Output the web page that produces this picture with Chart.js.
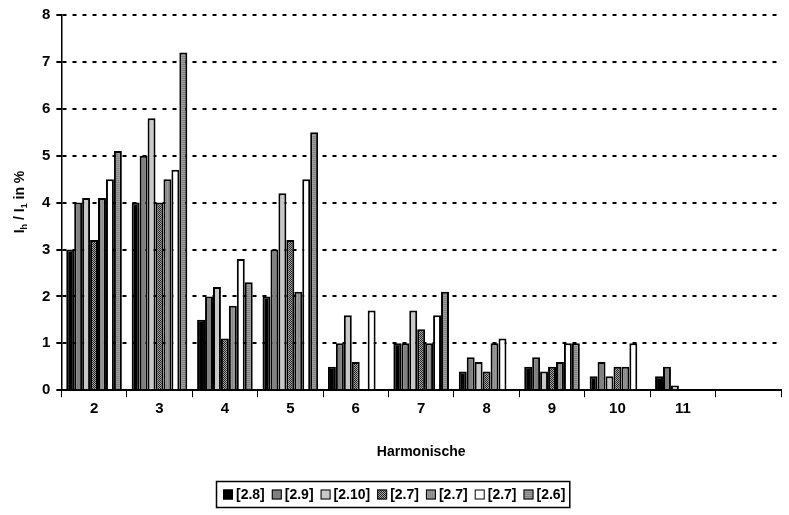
<!DOCTYPE html>
<html>
<head>
<meta charset="utf-8">
<script src="https://cdn.jsdelivr.net/npm/chart.js@4.4.1/dist/chart.umd.min.js"></script>
<style>
  html, body { margin: 0; padding: 0; background: #fff; }
  #wrap { width: 789px; height: 515px; }
</style>
</head>
<body>
<div id="wrap"><canvas id="harmChart" width="789" height="515"></canvas></div>
<script>
// Harmonic order (last slot stays empty like the original)
const harmonics = ['2', '3', '4', '5', '6', '7', '8', '9', '10', '11', ''];
const seriesNames = ['[2.8]', '[2.9]', '[2.10]', '[2.7]', '[2.7]', '[2.7]', '[2.6]'];

const src28  = [3.0, 4.0, 1.5, 2.0, 0.5, 1.0, 0.4, 0.5, 0.3, 0.3, null];
const src29  = [4.0, 5.0, 2.0, 3.0, 1.0, 1.0, 0.7, 0.7, 0.6, 0.5, null];
const src210 = [4.1, 5.8, 2.2, 4.2, 1.6, 1.7, 0.6, 0.4, 0.3, 0.1, null];
const src27a = [3.2, 4.0, 1.1, 3.2, 0.6, 1.3, 0.4, 0.5, 0.5, null, null];
const src27b = [4.1, 4.5, 1.8, 2.1, null, 1.0, 1.0, 0.6, 0.5, null, null];
const src27c = [4.5, 4.7, 2.8, 4.5, 1.7, 1.6, 1.1, 1.0, 1.0, null, null];
const src26  = [5.1, 7.2, 2.3, 5.5, null, 2.1, null, 1.0, null, null, null];

const yTicks = [0, 1, 2, 3, 4, 5, 6, 7, 8];

const FONT = '"Liberation Sans", Arial, sans-serif';

function makePattern(draw) {
    const c = document.createElement('canvas');
    c.width = 4; c.height = 4;
    const g = c.getContext('2d');
    draw(g);
    return document.getElementById('harmChart').getContext('2d').createPattern(c, 'repeat');
}

// checkered dark pattern
const checkPattern = makePattern(g => {
    g.fillStyle = '#a8a8a8'; g.fillRect(0, 0, 4, 4);
    g.fillStyle = '#202020';
    g.fillRect(0, 0, 1, 1); g.fillRect(2, 0, 1, 1);
    g.fillRect(1, 1, 1, 1); g.fillRect(3, 1, 1, 1);
    g.fillRect(0, 2, 1, 1); g.fillRect(2, 2, 1, 1);
    g.fillRect(1, 3, 1, 1); g.fillRect(3, 3, 1, 1);
});
// fine vertical stripes
const vStripe = makePattern(g => {
    g.fillStyle = '#9a9a9a'; g.fillRect(0, 0, 4, 4);
    g.fillStyle = '#888888'; g.fillRect(0, 0, 1, 4); g.fillRect(2, 0, 1, 4);
});
// fine horizontal stripes
const hStripe = makePattern(g => {
    g.fillStyle = '#a0a0a0'; g.fillRect(0, 0, 4, 4);
    g.fillStyle = '#808080'; g.fillRect(0, 0, 4, 1); g.fillRect(0, 2, 4, 1);
});

const fills = ['#000000', '#808080', '#c8c8c8', checkPattern, vStripe, '#ffffff', hStripe];
const allData = [src28, src29, src210, src27a, src27b, src27c, src26];

const datasets = allData.map((d, i) => ({
    label: seriesNames[i],
    data: d,
    backgroundColor: fills[i],
    borderColor: '#000',
    borderWidth: 2,
    borderSkipped: 'bottom',
    categoryPercentage: 0.85,
    barPercentage: 1.0
}));

// y axis title with subscripts + framed legend (tight spacing like the original)
const extrasPlugin = {
    id: 'extras',
    afterDraw(chart) {
        const ctx = chart.ctx;
        ctx.save();
        ctx.translate(19, 202);
        ctx.rotate(-Math.PI / 2);
        ctx.fillStyle = '#000';
        ctx.textBaseline = 'alphabetic';
        const big = 'bold 14px ' + FONT;
        const small = 'bold 9px ' + FONT;
        const parts = [['I', big, 0], ['h', small, 3], [' / I', big, 0], ['1', small, 3], [' in %', big, 0]];
        let w = 0;
        parts.forEach(p => { ctx.font = p[1]; w += ctx.measureText(p[0]).width; });
        let x = -w / 2;
        parts.forEach(p => {
            ctx.font = p[1];
            ctx.fillText(p[0], x, 5 + p[2]);
            x += ctx.measureText(p[0]).width;
        });
        ctx.restore();

        // legend
        ctx.save();
        ctx.font = 'bold 14px ' + FONT;
        const box = 10, gapBox = 3, gapItem = 7;
        const widths = chart.data.datasets.map(ds => ctx.measureText(ds.label).width);
        const total = widths.reduce((a, b) => a + b, 0) + chart.data.datasets.length * (box + gapBox) + (widths.length - 1) * gapItem;
        const cx = 394, cy = 494.5;
        let lx = Math.round(cx - total / 2);
        ctx.strokeStyle = '#000';
        ctx.lineWidth = 1.5;
        ctx.strokeRect(lx - 6.5, 481.5, total + 11, 26);
        ctx.textBaseline = 'middle';
        chart.data.datasets.forEach((ds, i) => {
            ctx.fillStyle = ds.backgroundColor;
            ctx.fillRect(lx, cy - 5, box, box);
            ctx.lineWidth = 1;
            ctx.strokeRect(lx + 0.5, cy - 4.5, box - 1, box - 1);
            lx += box + gapBox;
            ctx.fillStyle = '#000';
            ctx.fillText(ds.label, lx, cy + 1);
            lx += widths[i] + gapItem;
        });
        ctx.restore();
    }
};

new Chart(document.getElementById('harmChart'), {
    type: 'bar',
    data: { labels: harmonics, datasets: datasets },
    plugins: [extrasPlugin],
    options: {
        responsive: false,
        animation: false,
        layout: { padding: { left: 36, right: 8, top: 8, bottom: 43 } },
        plugins: {
            tooltip: { enabled: false },
            legend: { display: false }
        },
        scales: {
            x: {
                grid: { offset: true, drawOnChartArea: false, color: '#000', tickLength: 7, lineWidth: 1 },
                border: { color: '#000', width: 2 },
                ticks: {
                    color: '#000',
                    padding: 3,
                    font: { family: FONT, size: 15, weight: 'bold' }
                },
                title: {
                    display: true,
                    text: 'Harmonische',
                    color: '#000',
                    padding: { top: 23, bottom: 11 },
                    font: { family: FONT, size: 14, weight: 'bold' }
                }
            },
            y: {
                min: 0,
                max: 8,
                afterBuildTicks: axis => { axis.ticks = yTicks.map(v => ({ value: v })); },
                grid: {
                    color: '#000',
                    lineWidth: 2,
                    tickLength: 5,
                    tickBorderDash: []
                },
                border: { color: '#000', width: 1.5, dash: [4, 6] },
                ticks: {
                    color: '#000',
                    padding: 6,
                    font: { family: FONT, size: 15, weight: 'bold' }
                }
            }
        }
    }
});
</script>
</body>
</html>
